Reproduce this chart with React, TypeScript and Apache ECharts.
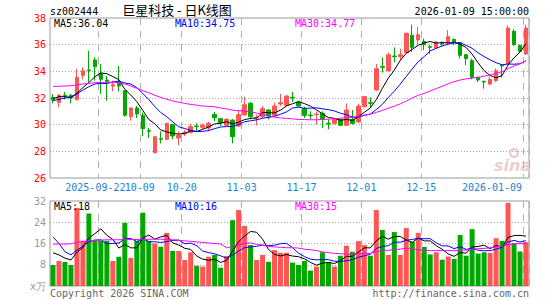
import React, { useEffect, useRef } from 'react';
import * as echarts from 'echarts';

const dates = [
  '2025-09-10','2025-09-11','2025-09-12','2025-09-15','2025-09-16','2025-09-17','2025-09-18','2025-09-19',
  '2025-09-22','2025-09-23','2025-09-24','2025-09-25','2025-09-26','2025-09-29','2025-09-30','2025-10-09',
  '2025-10-10','2025-10-13','2025-10-14','2025-10-15','2025-10-16','2025-10-17','2025-10-20','2025-10-21',
  '2025-10-22','2025-10-23','2025-10-24','2025-10-27','2025-10-28','2025-10-29','2025-10-30','2025-10-31',
  '2025-11-03','2025-11-04','2025-11-05','2025-11-06','2025-11-07','2025-11-10','2025-11-11','2025-11-12',
  '2025-11-13','2025-11-14','2025-11-17','2025-11-18','2025-11-19','2025-11-20','2025-11-21','2025-11-24',
  '2025-11-25','2025-11-26','2025-11-27','2025-11-28','2025-12-01','2025-12-02','2025-12-03','2025-12-04',
  '2025-12-05','2025-12-08','2025-12-09','2025-12-10','2025-12-11','2025-12-12','2025-12-15','2025-12-16',
  '2025-12-17','2025-12-18','2025-12-19','2025-12-22','2025-12-23','2025-12-24','2025-12-25','2025-12-26',
  '2025-12-29','2025-12-30','2025-12-31','2026-01-05','2026-01-06','2026-01-07','2026-01-08','2026-01-09',
];

const opens = [
  32.05, 31.66, 32.2, 32.2, 31.9, 33.7, 34.1, 34.85, 33.85, 33.35,
  32.9, 33.2, 32.55, 30.6, 31.25, 30.7, 29.55, 27.9, 28.95, 28.9,
  30.0, 29.0, 29.3, 29.4, 29.9, 29.8, 29.75, 30.77, 30.45, 29.95,
  30.35, 29.9, 30.75, 31.6, 30.5, 30.6, 31.1, 30.7, 31.55, 31.45,
  32.05, 31.7, 31.2, 30.72, 30.75, 30.85, 30.1, 30.1, 30.4, 29.95,
  30.4, 30.2, 31.35, 31.65, 32.6, 34.35, 34.05, 35.15, 35.1, 35.4,
  36.7, 36.35, 36.25, 35.85, 35.75, 36.1, 36.15, 36.4, 36.15, 35.25,
  34.8, 33.55, 33.25, 33.05, 33.3, 34.45, 34.55, 37.0, 35.95, 35.3,
];
const closes = [
  31.85, 32.2, 32.15, 32.0, 33.55, 34.05, 34.05, 34.35, 33.4, 33.25,
  33.0, 32.9, 30.7, 31.25, 30.8, 29.7, 29.5, 29.1, 28.9, 30.1,
  29.15, 29.2, 29.4, 29.85, 29.85, 29.95, 30.1, 30.52, 30.15, 30.4,
  29.1, 30.75, 31.5, 30.6, 30.55, 31.2, 30.65, 31.4, 31.65, 32.15,
  32.0, 31.4, 30.7, 30.68, 30.8, 30.45, 30.05, 30.4, 29.95, 31.1,
  30.1, 31.4, 32.1, 31.6, 34.2, 34.3, 35.25, 35.1, 35.25, 36.85,
  35.8, 36.75, 36.0, 35.8, 36.2, 36.05, 36.6, 36.15, 35.2, 34.95,
  33.55, 33.35, 33.2, 33.4, 34.05, 34.4, 37.25, 36.0, 35.5, 37.25,
];
const lows = [
  31.6, 31.3, 31.9, 31.6, 31.8, 33.4, 33.2, 33.3, 32.3, 31.8,
  32.5, 32.5, 30.6, 30.3, 30.5, 29.15, 29.0, 27.85, 28.6, 28.85,
  28.9, 28.45, 29.15, 29.35, 29.5, 29.65, 29.5, 30.27, 29.9, 29.9,
  28.6, 29.85, 30.65, 30.4, 29.95, 30.5, 30.4, 30.65, 31.4, 31.4,
  31.7, 31.35, 30.5, 30.4, 30.0, 29.75, 29.65, 30.0, 29.9, 29.9,
  30.0, 30.15, 31.3, 31.3, 32.55, 33.9, 33.98, 34.7, 34.8, 35.3,
  35.45, 36.0, 35.6, 35.3, 35.7, 35.9, 36.05, 35.95, 34.95, 34.45,
  33.4, 33.2, 32.7, 32.95, 33.2, 33.55, 34.55, 35.9, 35.45, 35.25,
];
const highs = [
  32.3, 32.3, 32.45, 32.3, 34.2, 34.3, 35.55, 35.05, 34.55, 33.65,
  33.3, 34.4, 32.6, 31.3, 31.4, 30.9, 29.75, 29.1, 29.5, 30.1,
  30.05, 29.5, 29.6, 30.05, 30.1, 30.1, 30.2, 30.95, 30.5, 30.5,
  30.4, 31.1, 32.1, 31.7, 30.75, 31.4, 31.15, 31.65, 32.3, 32.2,
  32.45, 31.8, 31.35, 31.0, 31.0, 31.0, 30.4, 30.5, 30.45, 31.6,
  31.1, 31.55, 32.15, 32.05, 34.55, 35.05, 35.4, 35.8, 35.7, 36.9,
  37.5, 37.35, 36.45, 36.0, 36.3, 36.25, 37.1, 36.45, 36.2, 35.3,
  34.95, 33.6, 33.3, 33.6, 34.2, 34.55, 37.45, 37.15, 36.0, 37.5,
];
// volume, 万手
const volumes = [
  7.9, 9.4, 9.0, 7.9, 29.4, 17.0, 27.3, 17.0, 17.0, 17.0,
  9.4, 11.0, 23.8, 10.6, 17.0, 27.6, 17.0, 16.0, 14.8, 20.0,
  13.2, 13.2, 9.8, 12.7, 7.6, 7.3, 11.0, 11.7, 6.9, 11.3,
  24.8, 28.6, 22.6, 15.4, 9.8, 11.7, 9.1, 13.5, 12.5, 12.5,
  8.8, 7.9, 9.4, 5.8, 7.3, 12.7, 9.1, 7.3, 11.4, 15.2,
  12.9, 16.9, 15.4, 11.4, 28.6, 21.1, 11.7, 20.3, 11.7, 21.8,
  16.6, 20.0, 14.7, 11.9, 12.7, 9.9, 11.1, 10.2, 19.2, 11.4,
  21.4, 12.2, 12.7, 12.5, 18.0, 17.0, 31.3, 16.0, 13.0, 16.5,
];

// moving-average values before enough history is in view
const ma5Head = [31.95, 32.1, 32.1, 32.05];
const ma10Head = [31.8, 31.9, 32.0, 32.05, 32.3, 32.6, 32.85, 33.05, 33.1];
const ma30Head = [
  32.87, 32.88, 32.9, 32.92, 32.98, 33.05, 33.1, 33.15, 33.17, 33.18,
  33.18, 33.15, 33.05, 32.9, 32.72, 32.55, 32.4, 32.2, 32.05, 31.9,
  31.78, 31.68, 31.6, 31.52, 31.46, 31.4, 31.37, 31.34, 31.25,
];
const volMa5Head = [12.5, 11.7, 10.5, 9.8];
const volMa10Head = [18.5, 16.0, 12.9, 11.7, 13.5, 15.0, 16.7, 17.3, 17.4];
const volMa30Head = [
  15.8, 15.8, 15.8, 15.9, 16.5, 16.8, 17.0, 17.2, 17.3, 17.4,
  17.4, 17.4, 17.5, 17.5, 17.5, 17.6, 17.6, 17.6, 17.6, 17.5,
  17.4, 17.2, 17.0, 16.8, 16.6, 16.4, 16.2, 16.0, 15.8,
];

const tickDates = ['2025-09-22','2025-10-09','2025-10-20','2025-11-03','2025-11-17','2025-12-01','2025-12-15','2026-01-09'];
const priceMaLabels = ['MA5:36.04', 'MA10:34.75', 'MA30:34.77'];
const volMaLabels = ['MA5:18', 'MA10:16', 'MA30:15'];

const MONO = '"DejaVu Sans Mono", "Liberation Mono", monospace';
const UP = '#ff5555';
const DOWN = '#00a800';
const MA_COLORS = ['#000000', '#0000ff', '#ff00ff'];
const XLABEL = '#1e82d2';

function movingAverage(vals: number[], n: number, head: number[]): number[] {
  return vals.map((_, i) => {
    if (i < n - 1) return head[i];
    let s = 0;
    for (let k = i - n + 1; k <= i; k++) s += vals[k];
    return +(s / n).toFixed(3);
  });
}

export default function App() {
  const ref = useRef<HTMLDivElement>(null);
  useEffect(() => {
    if (!ref.current) return;
    const chart = echarts.init(ref.current, null, { renderer: 'svg' });
    const tickIdx = tickDates.map((d) => dates.indexOf(d));
    const isTick = (i: number) => tickIdx.indexOf(i) >= 0;
    const firstIdx = tickIdx[0];
    const lastIdx = dates.length - 1;

    const candles = dates.map((_, i) => [opens[i], closes[i], lows[i], highs[i]]);
    const volData = volumes.map((v, i) => ({
      value: v,
      itemStyle: { color: closes[i] >= opens[i] ? UP : DOWN },
    }));
    const pMa = [
      movingAverage(closes, 5, ma5Head),
      movingAverage(closes, 10, ma10Head),
      movingAverage(closes, 30, ma30Head),
    ];
    const vMa = [
      movingAverage(volumes, 5, volMa5Head),
      movingAverage(volumes, 10, volMa10Head),
      movingAverage(volumes, 30, volMa30Head),
    ];

    const vSplit = {
      show: true,
      interval: (i: number) => isTick(i),
      lineStyle: { color: '#b0b0b0', type: [7, 6] as any, width: 1 },
    };
    const hSplit = {
      show: true,
      showMinLine: false,
      showMaxLine: false,
      lineStyle: { color: '#aaaaaa', type: [1, 2] as any, width: 1 },
    };

    const lineSeries = (data: number[], color: string, xi: number, yi: number) => ({
      type: 'line',
      xAxisIndex: xi,
      yAxisIndex: yi,
      data,
      showSymbol: false,
      symbol: 'none',
      lineStyle: { color, width: 1 },
      silent: true,
      z: 3,
    });

    const maTextX = [54, 175, 295];
    const richLabel = {
      first: { padding: [0, 11, 0, 0], color: XLABEL, fontFamily: MONO, fontSize: 10 },
      mid: { padding: [0, 6, 0, 0], color: XLABEL, fontFamily: MONO, fontSize: 10 },
      last: { padding: [0, 68, 0, 0], color: XLABEL, fontFamily: MONO, fontSize: 10 },
    };
    const fmtLabel = (v: string, i: number) => {
      if (i === lastIdx) return '{last|' + v + '}';
      if (i === firstIdx) return '{first|' + v + '}';
      return '{mid|' + v.slice(5) + '}';
    };

    chart.setOption({
      animation: false,
      backgroundColor: '#ffffff',
      grid: [
        { left: 50, top: 18, width: 479, height: 160, show: true, borderColor: '#999999', borderWidth: 1 },
        { left: 50, top: 201, width: 479, height: 85, show: true, borderColor: '#999999', borderWidth: 1 },
      ],
      xAxis: [
        {
          type: 'category', gridIndex: 0, data: dates, boundaryGap: true,
          axisLine: { show: false }, axisTick: { show: false },
          axisLabel: {
            interval: (i: number) => isTick(i) && i !== firstIdx,
            margin: 4,
            color: XLABEL,
            fontFamily: MONO,
            fontSize: 10,
            formatter: fmtLabel,
            rich: richLabel,
          },
          splitLine: vSplit,
        },
        {
          type: 'category', gridIndex: 1, data: dates, boundaryGap: true,
          axisLine: { show: false }, axisTick: { show: false }, axisLabel: { show: false },
          splitLine: vSplit,
        },
        {
          // carries the first date label, which overlaps its neighbour as in the original
          type: 'category', gridIndex: 1, position: 'top', data: dates, boundaryGap: true,
          axisLine: { show: false }, axisTick: { show: false }, splitLine: { show: false },
          axisLabel: {
            interval: (i: number) => i === firstIdx,
            margin: 9,
            color: XLABEL,
            fontFamily: MONO,
            fontSize: 10,
            formatter: fmtLabel,
            rich: richLabel,
          },
        },
      ],
      yAxis: [
        {
          type: 'value', gridIndex: 0, min: 26, max: 38, interval: 2,
          axisLine: { show: false }, axisTick: { show: false },
          axisLabel: { color: '#ff0000', fontFamily: MONO, fontSize: 10, margin: 4 },
          splitLine: hSplit,
        },
        {
          type: 'value', gridIndex: 1, min: 0, max: 32, interval: 8,
          axisLine: { show: false }, axisTick: { show: false },
          axisLabel: {
            color: '#999999', fontFamily: MONO, fontSize: 10, margin: 4,
            formatter: (v: number) => (v === 0 ? 'x万' : String(v)),
          },
          splitLine: hSplit,
        },
      ],
      series: [
        {
          type: 'candlestick', xAxisIndex: 0, yAxisIndex: 0, data: candles, barWidth: 4,
          itemStyle: { color: UP, color0: DOWN, borderColor: UP, borderColor0: DOWN, borderWidth: 1 },
          silent: true, z: 2,
        },
        lineSeries(pMa[0], MA_COLORS[0], 0, 0),
        lineSeries(pMa[1], MA_COLORS[1], 0, 0),
        lineSeries(pMa[2], MA_COLORS[2], 0, 0),
        { type: 'bar', xAxisIndex: 1, yAxisIndex: 1, data: volData, barWidth: 5, silent: true, z: 2 },
        lineSeries(vMa[0], MA_COLORS[0], 1, 1),
        lineSeries(vMa[1], MA_COLORS[1], 1, 1),
        lineSeries(vMa[2], MA_COLORS[2], 1, 1),
      ],
      graphic: [
        { type: 'text', x: 50, y: 11, style: { text: 'sz002444', font: '10px ' + MONO, fill: '#000', verticalAlign: 'middle' } },
        { type: 'text', x: 177, y: 9, style: { text: '巨星科技 - 日K线图', font: '13px "Noto Sans CJK SC"', fill: '#000', align: 'center', verticalAlign: 'middle' } },
        { type: 'text', x: 529, y: 11, style: { text: '2026-01-09 15:00:00', font: '10px ' + MONO, fill: '#000', align: 'right', verticalAlign: 'middle' } },
        ...priceMaLabels.map((t, k) => ({
          type: 'text', x: maTextX[k], y: 23, z: 10,
          style: { text: t, font: '10px ' + MONO, fill: MA_COLORS[k], verticalAlign: 'middle' },
        })),
        ...volMaLabels.map((t, k) => ({
          type: 'text', x: maTextX[k], y: 206, z: 10,
          style: { text: t, font: '10px ' + MONO, fill: MA_COLORS[k], verticalAlign: 'middle' },
        })),
        { type: 'text', x: 50, y: 293, style: { text: 'Copyright 2026 SINA.COM', font: '10px ' + MONO, fill: '#666', verticalAlign: 'middle' } },
        { type: 'text', x: 529, y: 293, style: { text: 'http://finance.sina.com.cn', font: '10px ' + MONO, fill: '#666', align: 'right', verticalAlign: 'middle' } },
        {
          type: 'group', z: 1,
          children: [
            { type: 'circle', shape: { cx: 514, cy: 153, r: 4 }, style: { fill: 'none', stroke: '#f2c4c4', lineWidth: 2 } },
            { type: 'text', x: 494, y: 165, style: { text: 'sina', font: 'italic bold 16px "DejaVu Sans"', fill: '#e8d0d0', verticalAlign: 'middle' } },
          ],
        },
      ],
    });
    return () => chart.dispose();
  }, []);
  return <div ref={ref} style={{ position: 'fixed', left: 0, top: 0, width: 545, height: 300 }} />;
}
